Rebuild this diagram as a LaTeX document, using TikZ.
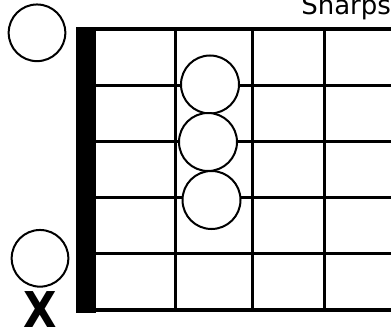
\documentclass[tikz,border=0pt]{standalone}
\usepackage{fontspec}
\setmainfont{DejaVu Sans}
\usepackage{xcolor}
\usetikzlibrary{positioning,calc}
\tikzset{
  stringline/.style={line width=2.4pt, black},
  fretline/.style={line width=2.25pt, black},
  nut/.style={fill=black, draw=none},
  dot/.style={circle, draw, line width=1.5pt, fill=white, minimum size=43.5pt, inner sep=0pt},
  opendot/.style={circle, draw, line width=1.5pt, fill=white, minimum size=42.5pt, inner sep=0pt},
  mutemark/.style={inner sep=0pt, anchor=base, xscale=0.88, font=\fontsize{37}{37}\selectfont\bfseries},
  title/.style={inner sep=0pt, anchor=base west, font=\fontsize{19.5}{20}\selectfont}
}

\begin{document}
\begin{tikzpicture}[x=0.75pt, y=-0.75pt]
    \useasboundingbox (0,0) rectangle (391,328);
    % strings and frets
    \foreach \s in {0,...,5}
      \draw[stringline] (96,{29+56.2*\s}) -- (391,{29+56.2*\s});
    \foreach \f in {175,252,324}
      \draw[fretline] (\f,29) -- (\f,310);
    \fill[nut] (76,27) rectangle (96,313);
    % fingered notes
    \node[dot] (n2) at (210,84.5) {};
    \node[dot] (n3) at (208,142) {};
    \node[dot] (n4) at (211.5,200) {};
    % open and muted strings
    \node[opendot] (open1) at (37,32.8) {};
    \node[opendot] (open5) at (40,258.3) {};
    \node[mutemark] (mute6) at (40,327) {X};
    \node[title] (name) at (301,15) {Sharps};
  \end{tikzpicture}
\end{document}
